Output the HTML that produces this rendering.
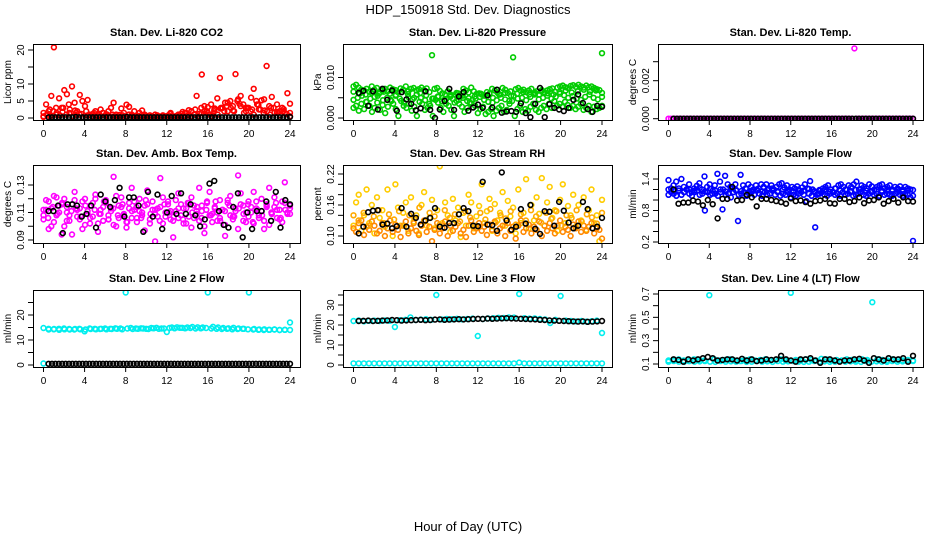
<!DOCTYPE html>
<html><head><meta charset="utf-8"><style>
html,body{margin:0;padding:0;background:#fff;}
svg{display:block;font-family:"Liberation Sans",Arial,sans-serif;}
</style></head><body>
<svg id="chart" width="936" height="540" viewBox="0 0 936 540" xmlns="http://www.w3.org/2000/svg">
<text x="468" y="14" text-anchor="middle" font-size="13">HDP_150918  Std. Dev. Diagnostics</text>
<text x="468" y="531" text-anchor="middle" font-size="13">Hour of Day (UTC)</text>
</svg>
<script>
const xTicks=[0,4,8,12,16,20,24];
// CO2
const co2Red=[0.5,4,2,6.5,20.8,1,5.8,3,8.2,7,1.5,9.3,4.5,2,6.8,5,3.5,5.3,0.8,1.2,2,0.5,2.5,1.5,1,2,3,4.5,1,0.5,2.8,1.5,3.9,3.3,1,2,0.5,1.5,2.2,1,0.5,0.8,0.3,1,0.5,0.2,0.8,0.5,0.3,1.5,0.5,0.3,0.8,1.2,0.5,1.5,2.3,0.5,1,6.5,1.2,12.8,3.5,2,1,0.5,2.8,5.8,11.8,3,4.5,2,5,3.5,12.9,5.5,6.5,4,2,3,6,8.6,5,2.5,5.2,5.5,15.3,3.5,6.2,1.5,4,2,3,1.5,7.3,4.2];
const co2Red2=[0.3,1,0.5,2,1.5,0.8,3,1,2.5,0.5,1.5,1,0.3,2,1,0.5,0.2,1,1.5,0.5,0.3,1,0.5,0.2,0.8,0.3,1,0.5,0.2,0.6,0.3,0.8,0.2,0.5,0.3,0.2,0.5,0.3,0.8,0.5,0.3,1,0.5,1.5,0.8,2,1,0.5,3,2,1.5,4,2.5,1,3,2,4.5,3,2,5,3.5,1.5,3,2,1,4,2.5,1.5,2,1,3,1.5,0.8,2,1.2,0.5];
const co2Red3=[1.5,2.5,3,1.8,4,2.2,1.2,0.8,1.5,0.6,1.1,0.4,0.9,0.5,0.7,0.3,0.6,0.4,0.8,0.5,1.2,0.6,1.8,1,2.5,1.5,3.2,2,2.8,3.5,2.2,4.2,3,2.5,3.8,2.2,3,1.8,2.6,1.5];
const co2Black=[0.2,0.2,0.2,0.2,0.2,0.2,0.2,0.2,0.3,0.2,0.2,0.2,0.2,0.2,0.2,0.2,0.2,0.2,0.2,0.2,0.2,0.2,0.2,0.3,0.2,0.2,0.2,0.2,0.2,0.2,0.2,0.2,0.2,0.2,0.2,0.2,0.2,0.2,0.2,0.2,0.2,0.2,0.2,0.2,0.2,0.2,0.2,0.2,0.2,0.2,0.2,0.2,0.2,0.2,0.2,0.2,0.2,0.2,0.2,0.2,0.2,0.2,0.2,0.2,0.2,0.2,0.2,0.2,0.2,0.2,0.2,0.3];
// Pressure
const presGreen=[.0078,.0082,.0075,.007,.0068,.0072,.0065,.0078,.007,.0074,.0062,.0068,.0072,.0066,.0075,.0071,.0069,.0064,.0073,.007,.0078,.0066,.0072,.0074,.0068,.0071,.0075,.0069,.0073,.0064,.0155,.0072,.0074,.0067,.0061,.0058,.0066,.0052,.0047,.0058,.0061,.0055,.0072,.0068,.0063,.0075,.0066,.0059,.0061,.0058,.0055,.0064,.006,.0072,.0068,.0063,.0058,.0074,.007,.0062,.0066,.015,.0071,.0074,.0068,.007,.0064,.0068,.0072,.0061,.0066,.0058,.0069,.0063,.0068,.0071,.0073,.0065,.0075,.0078,.008,.0076,.0074,.0079,.0081,.0077,.0082,.0078,.0075,.008,.0076,.0078,.0074,.0071,.0069,.016];
const presGreen2=[.0025,.003,.0018,.0035,.0022,.004,.003,.0015,.0025,.0038,.002,.0032,.0012,.0028,.0045,.0035,.0022,.0005,.0042,.003,.0025,.0035,.0018,.0028,.0005,.004,.0035,.002,.0025,.003,.0005,.0045,.0038,.0025,.0015,.0035,.003,.002,.0005,.0042,.0035,.0028,.0015,.0025,.0038,.0045,.003,.0012,.0022,.0028,.001,.0015,.0022,.0005,.0018,.0025,.003,.0015,.002,.0035,.0042,.0005,.0022,.003,.0015,.0022,.0018,.0028,.0035,.002,.0015,.0025,.003,.0022,.0035,.0025,.0042,.003,.0035,.0028,.004,.0032,.0025,.003,.0022,.0028,.0035,.002,.0025,.003,.0015,.0028,.0022,.0025,.003];
const presGreen3=[.0045,.005,.0055,.004,.0048,.0052,.006,.0044,.005,.0042,.0055,.0048,.0038,.0052,.0046,.0058,.005,.0044,.0035,.0048,.0053,.0041,.0047,.0055,.0038,.0045,.005,.0042,.0036,.0048,.0052,.0045,.004,.0038,.0044,.005,.0046,.0042,.0055,.0048,.005,.0044,.0052,.0058,.0046,.005,.0055,.0048,.0052,.006,.0056,.005,.0054,.0048,.0045,.0052,.0058,.005,.0046,.0052];
const presGreen4=[.0065,.006,.0058,.0062,.0055,.0065,.006,.0057,.0064,.0059,.005,.0062,.0056,.0048,.0052,.0045,.0058,.0062,.0055,.0049,.0053,.006,.0056,.005,.0058,.0062,.0055,.006,.0064,.0058,.0062,.0066,.0061,.0058,.0064,.0068,.0063,.0066,.007,.0065,.0068,.0062];
const presBlack=[.0062,.0067,.003,.0066,.0021,.0072,.0045,.0068,.0018,.0064,.0046,.0035,.0019,.0024,.0066,.002,.0,.0021,.0042,.0072,.002,.0053,.0064,.0018,.0026,.0033,.0025,.0056,.0026,.007,.0013,.0016,.0017,.0015,.0036,.0012,.0002,.0035,.0074,.0002,.0034,.0025,.0021,.0017,.0025,.0045,.0058,.0037,.0022,.0015,.003,.0028];
// Li-820 temp
const tempMag=[0,0,0,0,0,0,0,0,0,0,0,0,0,0,0,0,0,0,0,0,0,0,0,0,0,0,0,0,0,0,0,0,0,0,0,0,0,0,0,0,0,0,0,0,0,0,0,0,0,0,0,0,0,0,0,0,0,0,0,0,0,0,0,0,0,0,0,0,0,0,0,0,0,.0037,0,0,0,0,0,0,0,0,0,0,0,0,0,0,0,0,0,0,0,0,0,0,0];
const tempBlack=[0,0,0,0,0,0,0,0,0,0,0,0,0,0,0,0,0,0,0,0,0,0,0,0,0,0,0,0,0,0,0,0,0,0,0,0,0,0,0,0,0,0,0,0,0,0,0,0,0,0,0,0,0,0,0,0,0,0,0,0,0,0,0,0,0,0,0,0,0,0,0,0];
// Amb box temp
const ambMag=[.105,.112,.118,.1,.122,.108,.115,.094,.12,.11,.104,.116,.125,.107,.113,.098,.12,.111,.106,.117,.123,.102,.109,.114,.119,.105,.111,.136,.1,.115,.121,.108,.103,.117,.128,.112,.106,.12,.11,.115,.126,.102,.118,.109,.113,.135,.121,.107,.116,.111,.104,.119,.124,.108,.113,.102,.117,.121,.106,.111,.128,.115,.1,.118,.125,.109,.113,.104,.119,.112,.093,.117,.122,.107,.111,.137,.124,.115,.103,.118,.11,.125,.113,.106,.12,.098,.115,.128,.109,.121,.112,.105,.118,.132,.11,.115];
const ambMag2=[.108,.119,.098,.113,.103,.121,.11,.116,.1,.114,.108,.094,.119,.112,.105,.118,.101,.109,.115,.107,.12,.096,.112,.104,.117,.108,.113,.101,.122,.106,.114,.109,.099,.113,.106,.118,.103,.111,.108,.097,.116,.105,.112,.089,.107,.114,.102,.11,.118,.105,.092,.111,.106,.116,.102,.113,.107,.099,.115,.109,.104,.111,.095,.117,.108,.103,.114,.11,.106,.112,.101,.119,.108,.105,.113,.098,.116,.104,.11,.107,.114,.102,.118,.108,.111,.104,.116,.101,.109,.114,.106,.112,.103,.117,.109,.113];
const ambMag3=[.112,.106,.114,.109,.117,.104,.111,.113,.107,.115,.102,.112,.109,.118,.105,.113,.108,.116,.103,.111,.114,.106,.119,.109,.112,.104,.116,.11,.107,.113,.105,.117,.11,.114,.106,.112,.108,.118,.104,.111,.115,.107,.113,.109,.116,.103,.112,.108,.114,.11,.117,.106,.112,.109];
const ambBlack=[.111,.111,.115,.095,.116,.116,.115,.107,.109,.115,.099,.123,.118,.114,.119,.128,.107,.121,.121,.115,.096,.125,.107,.123,.098,.11,.122,.109,.124,.109,.116,.108,.1,.105,.131,.133,.111,.101,.099,.114,.124,.092,.11,.098,.111,.111,.118,.104,.125,.099,.119,.116];
// Gas stream RH
const rhYellow=[.12,.165,.18,.11,.14,.19,.125,.16,.105,.175,.135,.15,.118,.19,.13,.1,.2,.155,.12,.145,.165,.11,.175,.128,.14,.105,.16,.185,.12,.135,.17,.115,.15,.235,.125,.165,.14,.108,.172,.13,.155,.098,.145,.12,.18,.165,.115,.138,.158,.2,.125,.148,.172,.11,.162,.13,.145,.185,.12,.168,.138,.155,.105,.19,.125,.145,.21,.115,.16,.13,.175,.143,.212,.12,.165,.195,.135,.15,.11,.17,.2,.125,.158,.14,.18,.118,.16,.13,.175,.112,.15,.19,.125,.14,.09,.17];
const rhOrange=[.115,.108,.125,.13,.102,.118,.112,.128,.12,.105,.11,.125,.1,.115,.13,.108,.122,.112,.098,.12,.128,.105,.115,.125,.11,.102,.12,.13,.108,.118,.09,.112,.125,.105,.115,.128,.1,.12,.11,.118,.125,.105,.112,.098,.12,.13,.108,.115,.125,.11,.118,.102,.122,.112,.128,.105,.115,.12,.1,.125,.11,.118,.095,.12,.13,.108,.115,.122,.105,.118,.112,.128,.1,.12,.11,.125,.115,.105,.12,.13,.108,.118,.112,.1,.122,.115,.128,.108,.12,.11,.118,.125,.105,.115,.112,.095];
const rhOrange2=[.14,.13,.145,.12,.138,.15,.125,.142,.132,.148,.12,.14,.135,.155,.128,.145,.138,.122,.15,.135,.142,.128,.148,.136,.12,.145,.132,.152,.126,.14,.134,.148,.122,.142,.13,.15,.138,.126,.145,.133,.148,.12,.14,.135,.15,.128,.142,.136,.124,.145];
const rhBlack=[.105,.118,.146,.149,.15,.122,.124,.115,.119,.154,.118,.143,.135,.122,.13,.135,.154,.118,.116,.125,.125,.142,.154,.148,.12,.119,.205,.122,.121,.11,.223,.13,.112,.118,.152,.124,.16,.114,.104,.148,.147,.12,.166,.149,.126,.115,.12,.166,.152,.115,.118,.135];
// Sample flow
const sfBlue=[1.38,1.22,1.28,1.35,1.18,1.4,1.25,1.2,1.3,1.15,1.22,1.27,1.32,1.2,1.45,1.25,1.3,1.12,1.28,1.5,1.35,0.82,1.46,1.3,1.25,1.22,1.3,0.6,1.48,1.28,1.22,1.3,1.25,1.2,1.28,1.22,1.3,1.25,1.3,1.22,1.28,1.2,1.25,1.3,1.32,1.24,1.28,1.2,1.25,1.22,1.26,1.18,1.24,1.3,1.22,1.36,1.2,0.48,1.12,1.18,1.22,1.25,1.28,1.2,1.15,1.22,1.28,1.3,1.25,1.2,1.28,1.25,1.3,1.35,1.2,1.28,1.25,1.22,1.3,1.26,1.2,1.25,1.28,1.3,1.22,1.25,1.28,1.2,1.25,1.22,1.26,1.2,1.25,1.22,1.2,0.22];
const sfBlue2=[1.1,1.15,1.12,1.08,1.18,1.1,1.15,1.2,1.12,1.08,1.15,1.18,1.1,1.12,0.8,1.15,1.1,1.18,1.12,1.08,1.15,1.2,1.1,1.12,1.05,1.15,1.18,1.1,1.12,1.15,1.08,1.12,1.15,1.1,1.18,1.12,1.08,1.15,1.1,1.12,1.18,1.1,1.15,1.08,1.12,1.1,1.15,1.05,1.1,1.08,1.12,1.15,1.1,0.98,1.12,1.08,1.15,1.1,1.12,1.15,1.1,1.08,1.12,1.15,1.1,1.12,1.08,1.15,1.1,1.12,1.15,1.08,1.1,1.12,1.15,1.1,1.08,1.12,1.15,1.1,1.12,1.08,1.15,1.1,1.12,1.1,1.08,1.12,1.15,1.1,1.08,1.12,1.1,1.05,1.08];
const sfBlue3=[1.2,1.17,1.22,1.15,1.2,1.18,1.23,1.16,1.21,1.18,1.2,1.16,1.22,1.19,1.17,1.21,1.18,1.2,1.16,1.19,1.22,1.17,1.2,1.18,1.16,1.2,1.18,1.21,1.17,1.19,1.2,1.16,1.22,1.18,1.2,1.17,1.19,1.21,1.18,1.16,1.2,1.18,1.19,1.17,1.2,1.16,1.18,1.19];
const sfBlack=[1.2,0.93,0.95,0.95,0.99,0.97,0.9,1.0,0.92,0.65,1.02,1.02,1.25,0.99,1.0,1.1,1.05,0.88,1.02,1.02,1.0,0.98,0.96,0.93,1.03,0.98,0.99,0.96,0.93,0.98,0.99,1.02,0.94,0.93,1.02,1.02,0.96,0.98,1.05,0.94,0.99,1.0,1.05,0.93,0.98,1.02,0.95,1.05,0.98,0.97];
// Line 2
const l2Cyan=[14.8,14.5,14.3,14.5,14.6,14.4,14.2,14.5,13.5,14.6,14.5,14.4,14.6,14.5,14.7,14.6,29,14.8,14.6,14.7,14.5,14.8,14.9,14.6,13.2,15,15.1,14.9,15,15.2,15.1,15,29,15.3,15,14.8,14.7,14.9,14.6,14.5,29,14.4,14.2,14.3,14.1,14.2,14,14.1,17];
const l2Cyan2=[0.6,14.2,14.4,14.1,14.3,14.2,14.4,14.3,14.2,14.4,14.3,14.5,14.3,14.4,14.5,14.3,14.6,14.4,14.5,14.6,14.4,14.7,14.5,14.6,14.8,14.7,14.9,14.7,14.8,14.6,14.7,14.8,14.6,14.5,14.4,14.5,14.3,14.4,14.5,14.3,14.2,14.1,14.0,14.1,14.2,14.0,14.1,14.0];
const l2Black=[0.5,0.5,0.5,0.5,0.5,0.5,0.5,0.5,0.5,0.5,0.5,0.5,0.5,0.5,0.5,0.5,0.5,0.5,0.5,0.5,0.5,0.5,0.5,0.5,0.5,0.5,0.5,0.5,0.5,0.5,0.5,0.5,0.5,0.5,0.5,0.5,0.5,0.5,0.5,0.5,0.5,0.5,0.5,0.5,0.5,0.5,0.5,0.5,0.5,0.5,0.5,0.5,0.5,0.5,0.5,0.5,0.5,0.5,0.5,0.5,0.5,0.5,0.5,0.5,0.5,0.5,0.5,0.5,0.5,0.5,0.5,0.5];
// Line 3
const l3Cyan=[22,22.3,21.8,22.1,22.2,22,22.3,22.1,19,22.4,22.6,23.8,22.5,22.7,22.9,22.6,35,22.8,23,22.9,23.1,22.8,23,23.2,14.5,23,23.3,23.4,23.6,23.5,23.8,23.7,35.5,23.4,23.2,23.3,23,22.8,21,22.6,34.5,22.2,22,21.8,22,21.7,21.9,22.2,16];
const l3Cyan2=[0.8,0.8,0.8,0.8,0.8,0.8,0.8,0.8,0.8,0.8,0.8,0.8,0.8,0.8,0.8,0.8,0.8,0.8,0.8,0.8,0.8,0.8,0.8,0.8,0.8,0.8,0.8,0.8,0.8,0.8,0.8,0.8,1.2,0.8,0.8,0.8,0.8,0.8,0.8,0.8,0.8,0.8,0.8,0.8,0.8,0.8,0.8,0.8,0.8];
const l3Black=[22,22.1,22.2,22,22.1,22.2,22.3,22.5,22.4,22.2,22.3,22.4,22.5,22.6,22.4,22.5,22.7,22.8,22.6,22.7,22.8,22.9,22.8,22.9,23,23.1,23,23.2,23.1,23.2,23.3,23.4,23.3,23.2,23.1,23,22.9,22.8,22.6,22.5,22.3,22.2,22.1,22,21.9,21.8,21.7,21.8,21.6,21.7,21.8,22];
// Line 4
const l4Cyan=[0.13,0.135,0.14,0.13,0.125,0.14,0.135,0.13,0.69,0.14,0.13,0.135,0.14,0.13,0.125,0.135,0.14,0.13,0.135,0.14,0.13,0.135,0.14,0.13,0.71,0.135,0.13,0.14,0.135,0.13,0.145,0.14,0.13,0.135,0.13,0.14,0.135,0.13,0.14,0.135,0.63,0.14,0.135,0.13,0.14,0.135,0.13,0.135,0.13];
const l4Cyan2=[0.12,0.125,0.12,0.118,0.125,0.12,0.122,0.125,0.12,0.118,0.125,0.12,0.122,0.12,0.125,0.118,0.12,0.125,0.12,0.122,0.118,0.125,0.12,0.122,0.125,0.12,0.118,0.12,0.125,0.12,0.122,0.118,0.12,0.125,0.12,0.122,0.12,0.118,0.125,0.12,0.122,0.12,0.118,0.125,0.12,0.122,0.12,0.125];
const l4Black=[0.14,0.135,0.12,0.14,0.13,0.14,0.15,0.16,0.15,0.13,0.135,0.14,0.14,0.13,0.145,0.13,0.14,0.125,0.13,0.14,0.135,0.14,0.17,0.14,0.13,0.12,0.14,0.14,0.15,0.13,0.11,0.14,0.14,0.13,0.12,0.13,0.13,0.14,0.145,0.13,0.11,0.15,0.14,0.13,0.15,0.14,0.14,0.15,0.12,0.17];

const NS='http://www.w3.org/2000/svg';
const svg=document.getElementById('chart');
function mk(tag,attrs,parent){const e=document.createElementNS(NS,tag);for(const k in attrs)e.setAttribute(k,attrs[k]);(parent||svg).appendChild(e);return e;}

const panels=[
 {id:'co2',title:'Stan. Dev. Li-820 CO2',yl:'Licor ppm',col:0,row:0,cal:[0,118,20,50],ticks:[0,5,10,15,20],labels:['0','5','10','','20'],series:[[co2Red,'#ff0000'],[co2Red2,'#ff0000'],[co2Red3,'#ff0000'],[co2Black,'#000000']]},
 {id:'pressure',title:'Stan. Dev. Li-820 Pressure',yl:'kPa',col:1,row:0,cal:[0,118,0.01,77.5],ticks:[0,0.005,0.01],labels:['0.000','','0.010'],series:[[presGreen,'#00cc00'],[presGreen2,'#00cc00'],[presGreen3,'#00cc00'],[presGreen4,'#00cc00'],[presBlack,'#000000']]},
 {id:'li820-temp',title:'Stan. Dev. Li-820 Temp.',yl:'degrees C',col:2,row:0,cal:[0,118.7,0.002,80.7],ticks:[0,0.001,0.002,0.003],labels:['0.000','','0.002',''],series:[[tempMag,'#ff00ff'],[tempBlack,'#000000']]},
 {id:'amb-temp',title:'Stan. Dev. Amb. Box Temp.',yl:'degrees C',col:0,row:1,cal:[0.09,240,0.13,185],ticks:[0.09,0.10,0.11,0.12,0.13],labels:['0.09','','0.11','','0.13'],series:[[ambMag,'#ff00ff'],[ambMag2,'#ff00ff'],[ambMag3,'#ff00ff'],[ambBlack,'#000000']]},
 {id:'gas-rh',title:'Stan. Dev. Gas Stream RH',yl:'percent',col:1,row:1,cal:[0.10,236,0.22,174],ticks:[0.10,0.12,0.14,0.16,0.18,0.20,0.22],labels:['0.10','','','0.16','','','0.22'],series:[[rhYellow,'#ffcc00'],[rhOrange,'#ff8800'],[rhOrange2,'#ffaa00'],[rhBlack,'#000000']]},
 {id:'sample-flow',title:'Stan. Dev. Sample Flow',yl:'ml/min',col:2,row:1,cal:[0.2,242,1.4,179],ticks:[0.2,0.4,0.6,0.8,1.0,1.2,1.4],labels:['0.2','','','0.8','','','1.4'],series:[[sfBlue,'#0000ff'],[sfBlue2,'#0000ff'],[sfBlue3,'#0000ff'],[sfBlack,'#000000']]},
 {id:'line2-flow',title:'Stan. Dev. Line 2 Flow',yl:'ml/min',col:0,row:2,cal:[0,365,20,315],ticks:[0,5,10,15,20,25],labels:['0','','10','','20',''],series:[[l2Cyan,'#00eeee'],[l2Cyan2,'#00eeee'],[l2Black,'#000000']]},
 {id:'line3-flow',title:'Stan. Dev. Line 3 Flow',yl:'ml/min',col:1,row:2,cal:[0,365,30,305],ticks:[0,5,10,15,20,25,30,35],labels:['0','','10','','20','','30',''],series:[[l3Cyan,'#00eeee'],[l3Cyan2,'#00eeee'],[l3Black,'#000000']]},
 {id:'line4-flow',title:'Stan. Dev. Line 4 (LT) Flow',yl:'ml/min',col:2,row:2,cal:[0.1,364,0.7,294],ticks:[0.1,0.2,0.3,0.4,0.5,0.6,0.7],labels:['0.1','','0.3','','0.5','','0.7'],series:[[l4Cyan,'#00eeee'],[l4Cyan2,'#00eeee'],[l4Black,'#000000']]}
];
const colL=[33,343,658],colR=[300,612,923],rowT=[44,165,290],rowB=[120,243,367];

panels.forEach(p=>{
 const L=colL[p.col],R=colR[p.col],T=rowT[p.row],B=rowB[p.row];
 const x0=L+10.5,x1=R-10;
 const xs=h=>x0+(x1-x0)*h/24;
 const [v1,p1,v2,p2]=p.cal;
 const ys=v=>p1+(p2-p1)*(v-v1)/(v2-v1);
 const g=mk('g',{});
 
 
 const t=mk('text',{x:(L+R)/2,y:T-8,'text-anchor':'middle','font-size':'11','font-weight':'bold'},g);
 t.textContent=p.title;
 
 
 const cp=mk('clipPath',{id:'c'+p.id},g);mk('rect',{x:L,y:T,width:R-L,height:B-T},cp);
 const pts=mk('g',{'clip-path':'url(#c'+p.id+')'},g);
 
 
 p.series.forEach(([arr,color])=>{
  const n=arr.length;
  const isBlack=color==='#000000';
  arr.forEach((v,i)=>{
   const h=isBlack?0.5+23.5*i/(n-1):24*i/(n-1);
   const c=mk('circle',{cx:xs(h).toFixed(1),cy:ys(v).toFixed(1),r:2.4,fill:'none',stroke:color,'stroke-width':1.6},pts);
   
   
  });
 });
 const box=mk('rect',{x:L+0.5,y:T+0.5,width:R-L,height:B-T,fill:'none',stroke:'#000','stroke-width':1},g);
 
 
 const xa=mk('g',{},g);
 
 
 mk('line',{x1:xs(0),x2:xs(24),y1:B+0.5,y2:B+0.5,stroke:'#000'},xa);
 xTicks.forEach(h=>{
  mk('line',{x1:xs(h),x2:xs(h),y1:B,y2:B+5,stroke:'#000'},xa);
  const tx=mk('text',{x:xs(h),y:B+17,'text-anchor':'middle','font-size':'10'},xa);tx.textContent=h;
 });
 const ya=mk('g',{},g);
 
 
 const tk=p.ticks;
 mk('line',{x1:L+0.5,x2:L+0.5,y1:ys(tk[0]),y2:ys(tk[tk.length-1]),stroke:'#000'},ya);
 tk.forEach((v,i)=>{
  const y=ys(v);
  mk('line',{x1:L-5,x2:L,y1:y,y2:y,stroke:'#000'},ya);
  if(p.labels[i]){const tx=mk('text',{x:0,y:0,'text-anchor':'middle','font-size':'10',transform:`translate(${L-9},${y}) rotate(-90)`},ya);tx.textContent=p.labels[i];}
 });
 const yt=mk('text',{x:0,y:0,'text-anchor':'middle','font-size':'10',transform:`translate(${L-22},${(T+B)/2}) rotate(-90)`},g);
 yt.textContent=p.yl;
 
 
});
</script>
</body></html>
